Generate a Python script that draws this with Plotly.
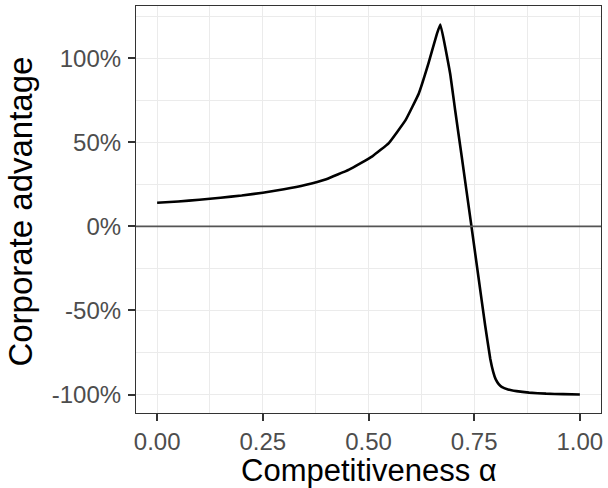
import plotly.graph_objects as go

alpha = [0.0, 0.05, 0.10, 0.15, 0.20, 0.25, 0.30, 0.35, 0.40, 0.454, 0.509, 0.548, 0.588, 0.619, 0.642, 0.662, 0.670,
         0.693, 0.705, 0.721, 0.743, 0.760, 0.776, 0.788, 0.795, 0.801, 0.808, 0.815, 0.83, 0.85, 0.88, 0.92, 0.96, 1.0]
advantage = [14, 14.8, 15.8, 17, 18.3, 20, 22, 24.5, 28, 33.7, 41.6, 49.5, 63.3, 79, 97, 114.6, 120,
             91, 69, 40.6, 1, -30, -59, -78.7, -86.5, -91, -93.8, -95.5, -97, -98, -98.9, -99.5, -99.8, -100]

x_ticks = [0.0, 0.25, 0.5, 0.75, 1.0]
x_tick_labels = ["0.00", "0.25", "0.50", "0.75", "1.00"]
y_ticks = [-100, -50, 0, 50, 100]
y_tick_labels = ["-100%", "-50%", "0%", "50%", "100%"]

FONT = "Liberation Sans, Arial, sans-serif"
grid = "#EBEBEB"
border = "#333333"

fig = go.Figure()
fig.add_hline(y=0, line=dict(color="#555555", width=1.8), layer="above")
fig.add_trace(go.Scatter(x=alpha, y=advantage, mode="lines",
                         line=dict(color="black", width=2.6, shape="spline", smoothing=0.3),
                         hoverinfo="skip", showlegend=False))

fig.update_layout(
    width=608, height=488,
    margin=dict(l=136, r=5, t=6, b=75),
    paper_bgcolor="white", plot_bgcolor="white",
    font=dict(family=FONT),
    xaxis=dict(range=[-0.05, 1.05], tickvals=x_ticks, ticktext=x_tick_labels,
               showgrid=True, gridcolor=grid, gridwidth=1.4,
               minor=dict(dtick=0.125, tick0=0, showgrid=True, gridcolor=grid, gridwidth=0.8),
               showline=True, linecolor=border, linewidth=1.2, mirror=True,
               ticks="outside", ticklen=7, tickwidth=1.6, tickcolor=border,
               tickfont=dict(size=24, color="#4D4D4D", family=FONT),
               zeroline=False),
    yaxis=dict(range=[-111, 131], tickvals=y_ticks, ticktext=y_tick_labels,
               showgrid=True, gridcolor=grid, gridwidth=1.4,
               minor=dict(dtick=25, tick0=0, showgrid=True, gridcolor=grid, gridwidth=0.8),
               showline=True, linecolor=border, linewidth=1.2, mirror=True,
               ticks="outside", ticklen=7, tickwidth=1.6, tickcolor=border,
               tickfont=dict(size=24, color="#4D4D4D", family=FONT),
               ticklabelstandoff=2,
               zeroline=False),
    annotations=[
        dict(text="Competitiveness α", xref="paper", yref="paper", x=0.5, y=-0.141,
             xanchor="center", yanchor="middle", showarrow=False,
             font=dict(size=31, color="black", family=FONT)),
        dict(text="Corporate advantage", xref="paper", yref="paper", x=-0.248, y=0.494,
             xanchor="center", yanchor="middle", textangle=-90, showarrow=False,
             font=dict(size=33, color="black", family=FONT)),
    ],
)

fig.write_html("out.html")
